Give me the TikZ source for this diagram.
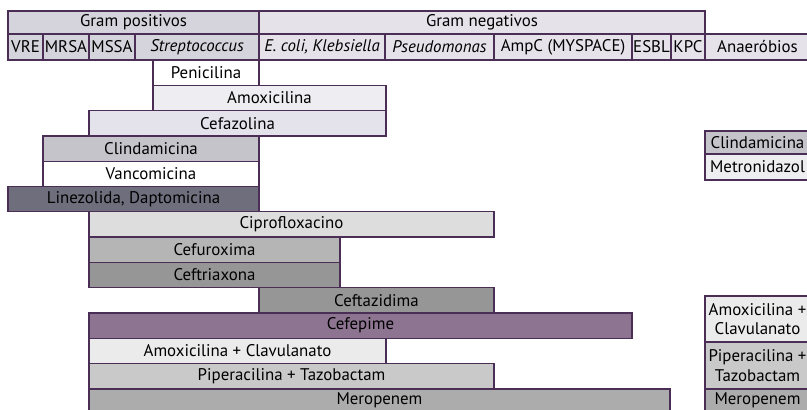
\documentclass[tikz,border=0pt]{standalone}
\usepackage{fontspec}
\setmainfont{PT Sans}
\usetikzlibrary{positioning}
\definecolor{edgepurple}{HTML}{4B2E55}
\definecolor{gposfill}{HTML}{D5D4DC}
\definecolor{gnegfill}{HTML}{E6E2EA}
\definecolor{amoxfill}{HTML}{EEEDF1}
\definecolor{cefazfill}{HTML}{E4E3EC}
\definecolor{clindfill}{HTML}{C5C4CA}
\definecolor{linezfill}{HTML}{6F6E7D}
\definecolor{ciprofill}{HTML}{DDDDDD}
\definecolor{cefurfill}{HTML}{B5B5B5}
\definecolor{ceftrfill}{HTML}{969696}
\definecolor{cefepfill}{HTML}{8D7491}
\definecolor{clavfill}{HTML}{EBEBEB}
\definecolor{tazofill}{HTML}{C9C9C9}
\definecolor{merofill}{HTML}{ACACAC}
\definecolor{metrofill}{HTML}{EEEEF0}
\tikzstyle{cell} = [rectangle, draw=edgepurple, line width=0.75pt, inner sep=0pt, outer sep=0pt, anchor=north west, text centered, font=\fontsize{9.6}{11}\selectfont]
\tikzstyle{head} = [cell, minimum height=0.46cm]
\tikzstyle{germ} = [cell, minimum height=0.52cm]
\tikzstyle{bar} = [cell, minimum height=0.506cm]
\tikzstyle{anbox} = [cell, minimum width=2.10cm, align=center]

\begin{document}
\begin{tikzpicture}
            \useasboundingbox (0,0) rectangle (16.14,-8.20);
            % first header row
            \node[head, fill=gposfill, minimum width=5.02cm] (gpos) at (0.16,-0.22) {Gram positivos};
            \node[head, fill=gnegfill, minimum width=8.92cm] (gneg) at (5.18,-0.22) {Gram negativos};
            % second header row
            \node[germ, fill=gposfill, minimum width=0.70cm] (vre) at (0.16,-0.68) {VRE};
            \node[germ, fill=gposfill, minimum width=0.92cm] (mrsa) at (0.86,-0.68) {MRSA};
            \node[germ, fill=gposfill, minimum width=0.92cm] (mssa) at (1.78,-0.68) {MSSA};
            \node[germ, fill=gposfill, minimum width=2.48cm] (strep) at (2.70,-0.68) {\itshape Streptococcus};
            \node[germ, fill=gnegfill, minimum width=2.52cm] (ecoli) at (5.18,-0.68) {\itshape E. coli, Klebsiella};
            \node[germ, fill=gnegfill, minimum width=2.18cm] (pseudo) at (7.70,-0.68) {\itshape Pseudomonas};
            \node[germ, fill=gnegfill, minimum width=2.76cm] (ampc) at (9.88,-0.68) {AmpC (MYSPACE)};
            \node[germ, fill=gnegfill, minimum width=0.78cm] (esbl) at (12.64,-0.68) {ESBL};
            \node[germ, fill=gnegfill, minimum width=0.68cm] (kpc) at (13.42,-0.68) {KPC};
            \node[germ, fill=gnegfill, minimum width=2.10cm] (anaer) at (14.10,-0.68) {Anaeróbios};
            % antibiotic bars
            \node[bar, fill=white, minimum width=2.12cm] (penic) at (3.06,-1.200) {Penicilina};
            \node[bar, fill=amoxfill, minimum width=4.66cm] (amox) at (3.06,-1.706) {Amoxicilina};
            \node[bar, fill=cefazfill, minimum width=5.94cm] (cefaz) at (1.78,-2.212) {Cefazolina};
            \node[bar, fill=clindfill, minimum width=4.32cm] (clind) at (0.86,-2.718) {Clindamicina};
            \node[bar, fill=white, minimum width=4.32cm] (vanco) at (0.86,-3.224) {Vancomicina};
            \node[bar, fill=linezfill, minimum width=5.02cm] (linez) at (0.16,-3.730) {Linezolida, Daptomicina};
            \node[bar, fill=ciprofill, minimum width=8.10cm] (cipro) at (1.78,-4.236) {Ciprofloxacino};
            \node[bar, fill=cefurfill, minimum width=5.02cm] (cefur) at (1.78,-4.742) {Cefuroxima};
            \node[bar, fill=ceftrfill, minimum width=5.02cm] (ceftr) at (1.78,-5.248) {Ceftriaxona};
            \node[bar, fill=ceftrfill, minimum width=4.70cm] (ceftaz) at (5.18,-5.754) {Ceftazidima};
            \node[bar, fill=cefepfill, minimum width=10.86cm] (cefep) at (1.78,-6.260) {Cefepime};
            \node[bar, fill=clavfill, minimum width=5.94cm] (amoxclav) at (1.78,-6.766) {Amoxicilina + Clavulanato};
            \node[bar, fill=tazofill, minimum width=8.10cm] (piptazo) at (1.78,-7.272) {Piperacilina + Tazobactam};
            \node[bar, fill=merofill, minimum width=11.62cm, minimum height=0.47cm] (mero) at (1.78,-7.778) {Meropenem};
            % anaerobes column
            \node[anbox, fill=clindfill, minimum height=0.46cm] (anclind) at (14.10,-2.62) {Clindamicina};
            \node[anbox, fill=metrofill, minimum height=0.52cm, below=0pt of anclind] (anmetro) {Metronidazol};
            \node[anbox, fill=clavfill, minimum height=0.92cm] (anclav) at (14.10,-5.92) {Amoxicilina +\\Clavulanato};
            \node[anbox, fill=tazofill, minimum height=0.94cm, below=0pt of anclav] (antazo) {Piperacilina +\\Tazobactam};
            \node[anbox, fill=merofill, minimum height=0.47cm, below=0pt of antazo] (anmero) {Meropenem};
        \end{tikzpicture}
\end{document}
